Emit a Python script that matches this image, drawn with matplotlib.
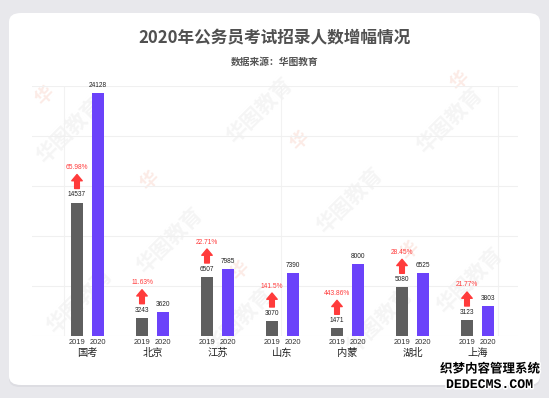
import matplotlib
matplotlib.use("Agg")
import matplotlib.pyplot as plt
from matplotlib.patches import FancyBboxPatch
from matplotlib.transforms import offset_copy
import matplotlib.patheffects as pe
import numpy as np

plt.rcParams['font.family'] = ['Noto Sans CJK SC', 'DejaVu Sans']

# ---- data ----
categories = ["国考", "北京", "江苏", "山东", "内蒙", "湖北", "上海"]
years = ["2019", "2020"]
# bar heights as drawn in the picture
bars_2019 = [13350, 1830, 5900, 1500, 770, 4870, 1600]
bars_2020 = [24300, 2430, 6700, 6300, 7200, 6270, 3000]
# value labels printed on the picture
labels_2019 = ["14537", "3243", "6507", "3070", "1471", "5080", "3123"]
labels_2020 = ["24128", "3620", "7985", "7390", "8000", "6525", "3803"]
growth = ["65.98%", "11.63%", "22.71%", "141.5%", "443.86%", "28.45%", "21.77%"]

title = "2020年公务员考试招录人数增幅情况"
subtitle = "数据来源：华图教育"

W, H = 549, 398
fig = plt.figure(figsize=(W / 100, H / 100), dpi=100)
fig.patch.set_facecolor("#e8e8ec")

# card with shadow
shadow = FancyBboxPatch((9 / W, 11 / H), 531 / W, 372 / H,
                        boxstyle="round,pad=0,rounding_size=0.02",
                        transform=fig.transFigure, facecolor="#d6d6dc",
                        edgecolor="none", alpha=0.6, zorder=0)
fig.patches.append(shadow)
card = FancyBboxPatch((9 / W, 13 / H), 531 / W, 372 / H,
                      boxstyle="round,pad=0,rounding_size=0.022",
                      transform=fig.transFigure, facecolor="white",
                      edgecolor="none", zorder=1)
fig.patches.append(card)

# faint watermarks (inside the card)
wm_pos = [(70, 130), (170, 240), (260, 110), (350, 200), (450, 120),
          (470, 280), (80, 300), (240, 320), (380, 320)]
for (px, py) in wm_pos:
    fig.text(px / W, 1 - py / H, "华图教育", rotation=45, fontsize=15,
             color="#f5f5f5", ha="center", va="center", fontweight="bold", zorder=1.5)
logo_pos = [(45, 95), (150, 180), (300, 140), (410, 250), (240, 270), (460, 80)]
for (px, py) in logo_pos:
    fig.text(px / W, 1 - py / H, "华", rotation=45, fontsize=13,
             color="#fcebe6", ha="center", va="center", fontweight="bold", zorder=1.5)

fig.text(0.5, 1 - 38 / H, title, ha="center", va="center", fontsize=12,
         color="#505050", fontweight="bold", zorder=3)
fig.text(0.5, 1 - 62 / H, subtitle, ha="center", va="center", fontsize=7,
         color="#555555", fontweight="bold", zorder=3)

# axes: x index -> pixel = 87.5 + 65*i
left_px, right_px, base_px, top_px = 31.5, 518, 336, 86
ax = fig.add_axes([left_px / W, 1 - base_px / H, (right_px - left_px) / W,
                   (base_px - top_px) / H])
ax.set_zorder(2)
ax.patch.set_alpha(0)
ax.set_xlim((left_px - 87.5) / 65, (right_px - 87.5) / 65)
ax.set_ylim(0, 25000)
for s in ax.spines.values():
    s.set_visible(False)
ax.set_yticks(np.arange(0, 25001, 5000))
ax.tick_params(axis="y", length=0, labelleft=False)
ax.grid(axis="y", color="#f0f0f0", linewidth=0.8, zorder=0)
for vx in [64, 281, 498]:
    ax.axvline((vx - 87.5) / 65, color="#f2f2f2", linewidth=0.8, zorder=0)

x = np.arange(len(categories))
off = 10.5 / 65
bw = 12 / 65
c19 = "#5f5f5f"
c20 = "#6b42fa"
red = "#ff3b3b"
ax.bar(x - off, bars_2019, width=bw, color=c19, zorder=3)
ax.bar(x + off, bars_2020, width=bw, color=c20, zorder=3)

tick_pos = np.concatenate([x - off, x + off])
tick_lab = [years[0]] * len(x) + [years[1]] * len(x)
ax.set_xticks(tick_pos)
ax.set_xticklabels(tick_lab, fontsize=5.4, color="#333333", family="Liberation Sans")
ax.tick_params(axis="x", length=0, pad=2)

for i in range(len(categories)):
    ax.annotate(labels_2019[i], xy=(x[i] - off, bars_2019[i]), xytext=(0, 7.5),
                textcoords="offset pixels", ha="center", va="center",
                fontsize=4.7, color="#222222", family="Liberation Sans",
                annotation_clip=False, zorder=4)
    ax.annotate(labels_2020[i], xy=(x[i] + off, bars_2020[i]), xytext=(0, 7.5),
                textcoords="offset pixels", ha="center", va="center",
                fontsize=4.7, color="#222222", family="Liberation Sans",
                annotation_clip=False, zorder=4)
    ax.annotate(growth[i], xy=(x[i] - off, bars_2019[i]), xytext=(0, 35),
                textcoords="offset pixels", ha="center", va="center",
                fontsize=4.8, color=red, family="Liberation Sans",
                annotation_clip=False, zorder=4)
    tr = offset_copy(ax.transData, fig=fig, x=0, y=28, units="dots")
    ax.annotate("", xy=(x[i] - off, bars_2019[i]), xycoords=tr,
                xytext=(0, -14), textcoords="offset pixels",
                arrowprops=dict(arrowstyle="simple,head_length=0.6,head_width=1.0,tail_width=0.45",
                                color=red, mutation_scale=7.5, shrinkA=0, shrinkB=0),
                annotation_clip=False, zorder=4)
    ax.annotate(categories[i], xy=(x[i], 0), xytext=(0, -17),
                textcoords="offset pixels", ha="center", va="center",
                fontsize=7.4, color="#222222", annotation_clip=False)

# overlay watermark bottom-right
stroke = [pe.withStroke(linewidth=2.2, foreground="white")]
fig.text(490 / W, 1 - 369 / H, "织梦内容管理系统", ha="center", va="center",
         fontsize=9, fontweight="bold", color="black", path_effects=stroke, zorder=10)
fig.text(490 / W, 1 - 385 / H, "DEDECMS.COM", ha="center", va="center",
         fontsize=9.5, fontweight="bold", color="black", family="Liberation Mono",
         path_effects=stroke, zorder=10)

fig.savefig("out.png", dpi=100, facecolor=fig.get_facecolor())
